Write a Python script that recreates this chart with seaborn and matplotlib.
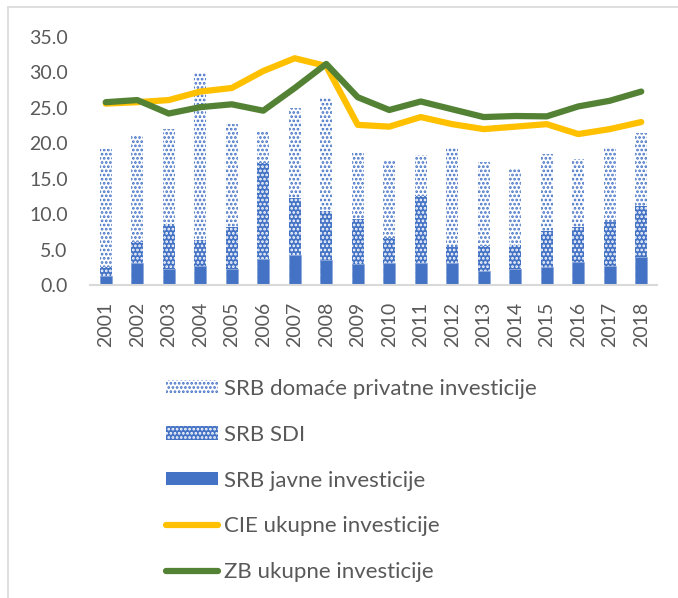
import numpy as np
import pandas as pd
import matplotlib
matplotlib.use("Agg")
import matplotlib.pyplot as plt
import matplotlib.patches as mpatches
import matplotlib.lines as mlines
import seaborn as sns

# data (% of GDP)
years = [str(y) for y in range(2001, 2019)]
srb_javne = [1.3, 3.1, 2.2, 2.7, 2.3, 3.6, 4.2, 3.5, 2.9, 3.1, 3.1, 3.1, 2.0, 2.2, 2.6, 3.2, 2.7, 3.9]
srb_sdi = [1.2, 3.0, 6.4, 3.6, 5.9, 13.6, 8.1, 6.9, 6.4, 3.6, 9.4, 2.2, 3.5, 3.5, 5.0, 5.0, 6.2, 7.3]
srb_privatne = [16.7, 15.0, 13.4, 23.6, 14.5, 4.5, 12.7, 16.1, 9.3, 10.9, 5.9, 14.0, 11.8, 10.8, 10.9, 9.6, 10.6, 10.3]
cie_ukupne = [25.6, 25.8, 26.1, 27.3, 27.8, 30.2, 32.0, 30.9, 22.6, 22.35, 23.7, 22.7, 22.0, 22.35, 22.7, 21.3, 22.0, 23.0]
zb_ukupne = [25.8, 26.1, 24.2, 25.1, 25.5, 24.6, 27.8, 31.2, 26.5, 24.7, 25.9, 24.8, 23.7, 23.85, 23.8, 25.2, 26.0, 27.3]

labels = ["SRB domaće privatne investicije", "SRB SDI", "SRB javne investicije",
          "CIE ukupne investicije", "ZB ukupne investicije"]

blue = "#4472C4"
yellow = "#FFC000"
green = "#548235"
grey_text = "#595959"

df = pd.DataFrame({
    "year": years,
    "javne": srb_javne,
    "sdi": srb_sdi,
    "privatne": srb_privatne,
})
df["javne_sdi"] = df["javne"] + df["sdi"]
df["total"] = df["javne_sdi"] + df["privatne"]

sns.set_style("white")
plt.rcParams["font.family"] = ["Lato", "DejaVu Sans"]
plt.rcParams["hatch.linewidth"] = 1.3

fig = plt.figure(figsize=(6.78, 5.98), dpi=100)
ax = fig.add_axes([90 / 678, 1 - 285 / 598, (657 - 90) / 678, (285 - 37) / 598])

bw = 0.38
# layered bars: totals (private pattern), then javne+SDI (dense pattern), then javne (solid)
sns.barplot(data=df, x="year", y="total", ax=ax, color="white", width=bw, saturation=1)
for p in ax.containers[-1]:
    p.set_facecolor("white")
    p.set_edgecolor(blue)
    p.set_hatch("....")
    p.set_linewidth(0)

sns.barplot(data=df, x="year", y="javne_sdi", ax=ax, color=blue, width=bw, saturation=1)
for p in ax.containers[-1]:
    p.set_facecolor(blue)
    p.set_edgecolor("white")
    p.set_hatch("....")
    p.set_linewidth(0)

sns.barplot(data=df, x="year", y="javne", ax=ax, color=blue, width=bw, saturation=1,
            edgecolor="#8FAADC", linewidth=0.6)

xpos = np.arange(len(years))
sns.lineplot(x=xpos, y=cie_ukupne, ax=ax, color=yellow, linewidth=4.5, solid_capstyle="round")
sns.lineplot(x=xpos, y=zb_ukupne, ax=ax, color=green, linewidth=4.5, solid_capstyle="round")

ax.set_xlim(-0.5, len(years) - 0.5)
ax.set_ylim(0, 35)
ax.set_yticks(np.arange(0, 36, 5))
ax.set_yticklabels([f"{v:.1f}" for v in np.arange(0, 36, 5)])
ax.set_xticks(xpos)
ax.set_xticklabels(years, rotation=90)
ax.set_xlabel("")
ax.set_ylabel("")
ax.tick_params(axis="both", length=0, labelsize=14, colors=grey_text)
ax.tick_params(axis="y", pad=16)
ax.tick_params(axis="x", pad=12)
for side in ["left", "right", "top"]:
    ax.spines[side].set_visible(False)
ax.spines["bottom"].set_color("#D9D9D9")
ax.spines["bottom"].set_linewidth(1.5)

# legend
h_priv = mpatches.Patch(facecolor="white", edgecolor=blue, hatch="....", linewidth=0)
h_sdi = mpatches.Patch(facecolor=blue, edgecolor="white", hatch="....", linewidth=0)
h_jav = mpatches.Patch(facecolor=blue, edgecolor=blue, linewidth=0)
h_cie = mlines.Line2D([], [], color=yellow, linewidth=4.5, solid_capstyle="round")
h_zb = mlines.Line2D([], [], color=green, linewidth=4.5, solid_capstyle="round")
leg = fig.legend([h_priv, h_sdi, h_jav, h_cie, h_zb], labels,
                 loc="upper left", bbox_to_anchor=(166 / 678, 1 - 379 / 598),
                 frameon=False, fontsize=16, labelcolor=grey_text,
                 handlelength=2.35, handleheight=0.55, handletextpad=0.27,
                 labelspacing=1.16, borderpad=0, borderaxespad=0)

# outer chart border (left and top, as visible in the crop)
fig.add_artist(mlines.Line2D([8 / 678, 8 / 678], [0, 1 - 7 / 598],
                             transform=fig.transFigure, color="#D9D9D9", linewidth=1.2))
fig.add_artist(mlines.Line2D([8 / 678, 1], [1 - 7 / 598, 1 - 7 / 598],
                             transform=fig.transFigure, color="#D9D9D9", linewidth=1.2))

fig.savefig("out.png", dpi=100)
